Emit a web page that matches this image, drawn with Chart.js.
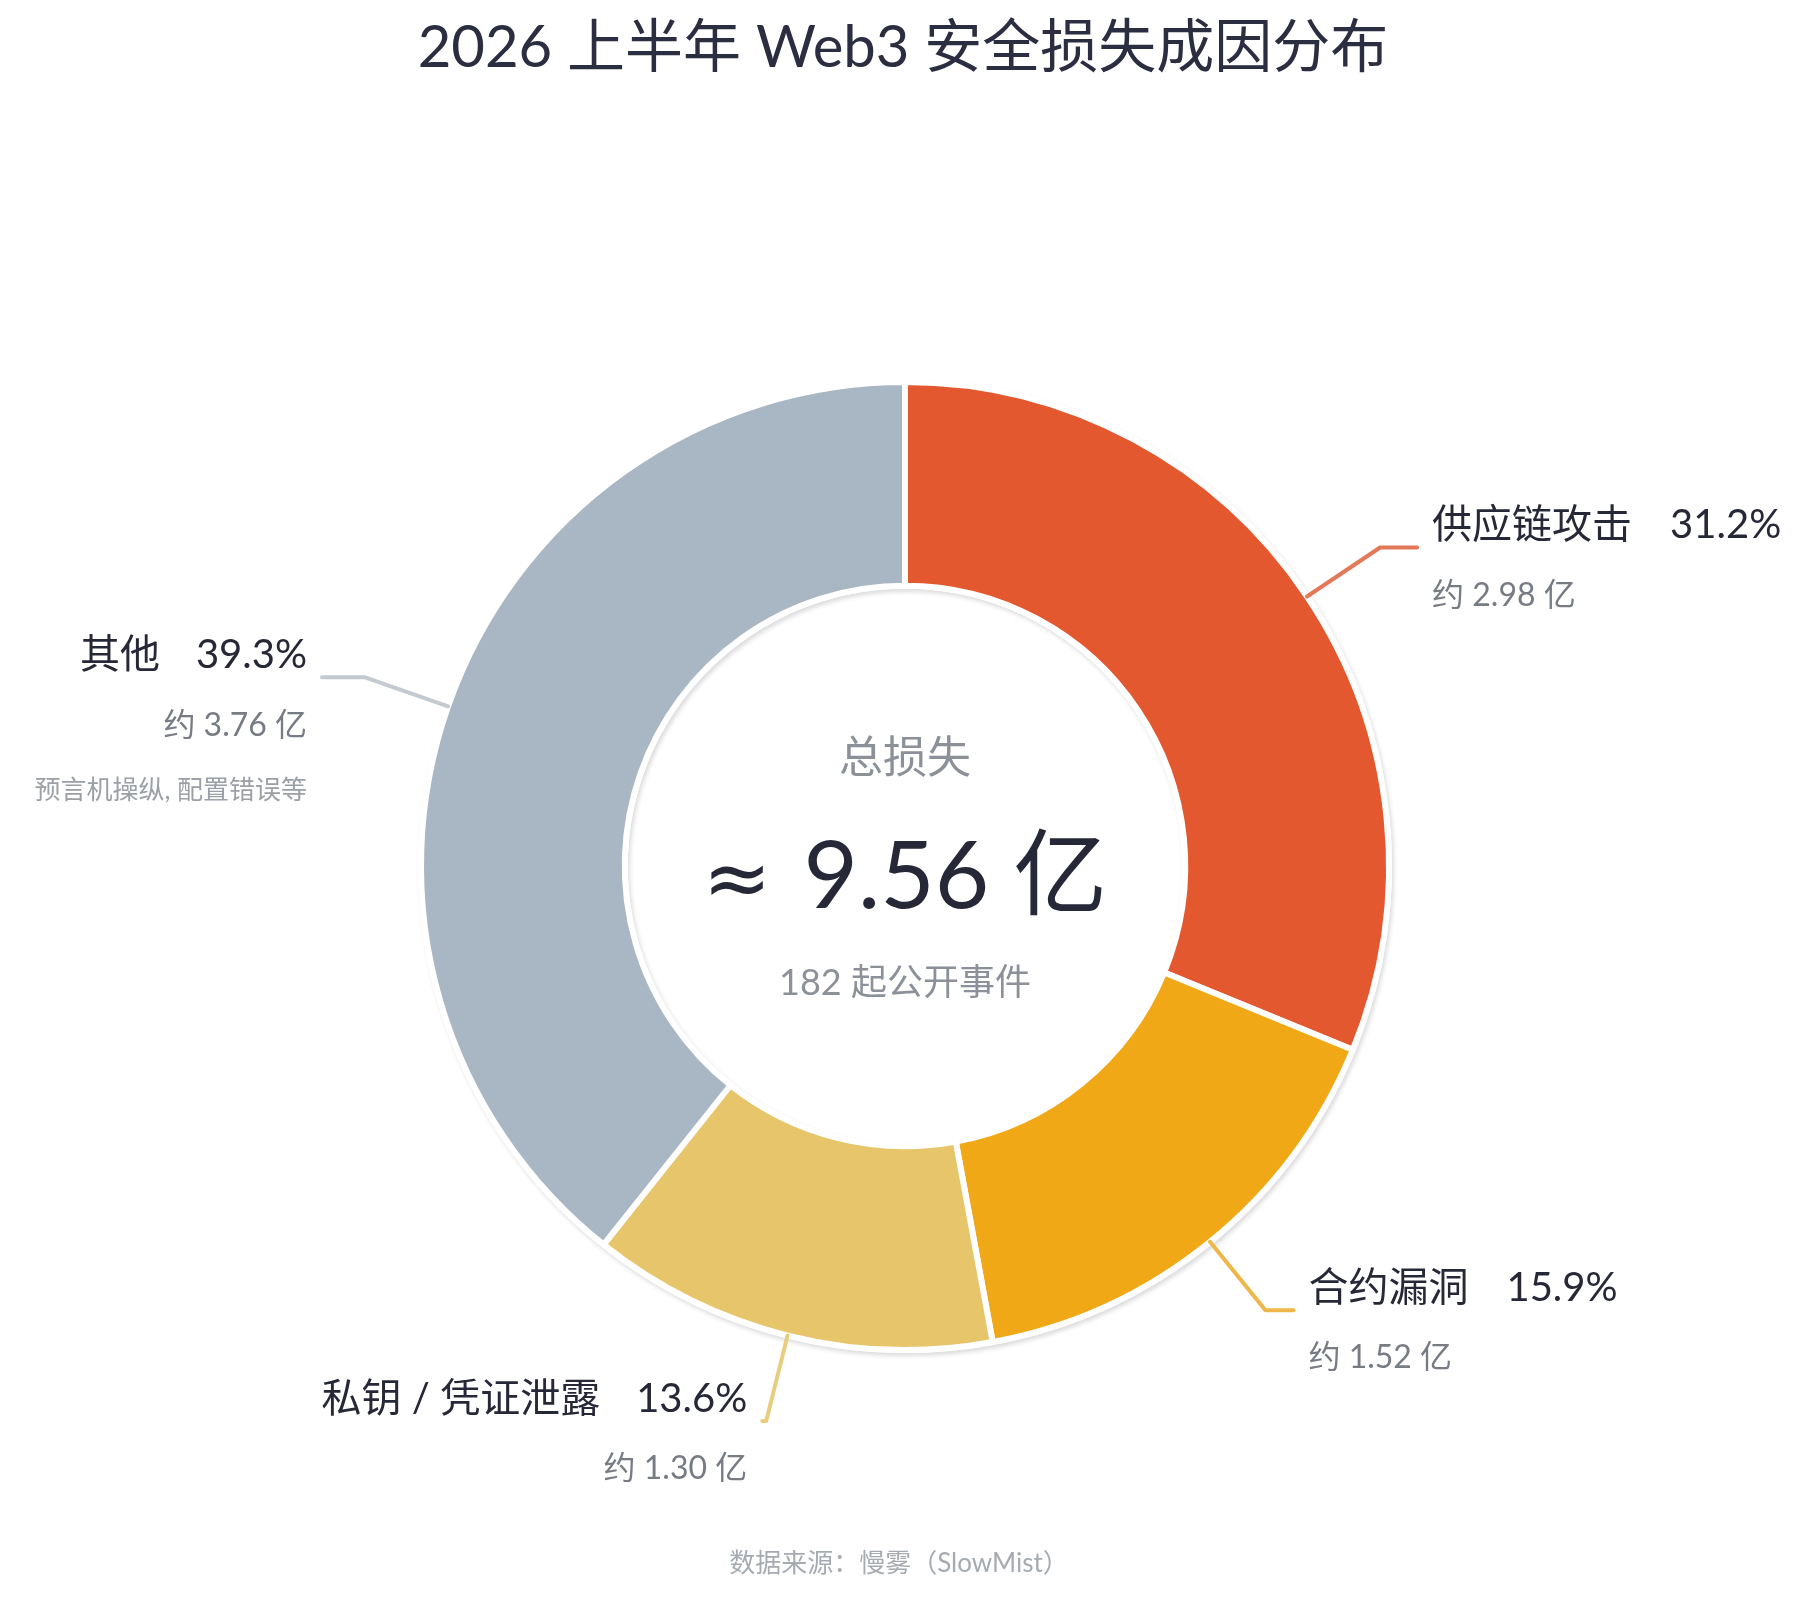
<!DOCTYPE html>
<html lang="zh-CN">
<head>
<meta charset="utf-8">
<title>2026 上半年 Web3 安全损失成因分布</title>
<script src="https://cdn.jsdelivr.net/npm/chart.js@4.4.1/dist/chart.umd.min.js"></script>
<style>
  html, body { margin: 0; padding: 0; background: #fff; }
  #wrap { width: 1803px; height: 1600px; }
</style>
</head>
<body>
<div id="wrap"><canvas id="lossChart" width="1803" height="1600"></canvas></div>
<script>
var chartTitle = '2026 上半年 Web3 安全损失成因分布';
var categories = ['供应链攻击', '合约漏洞', '私钥 / 凭证泄露', '其他'];
var shares = [31.2, 15.9, 13.6, 39.3];      // %
var amounts = [2.98, 1.52, 1.30, 3.76];     // 亿
var notes = ['', '', '', '预言机操纵, 配置错误等'];
var totalLoss = 9.56;                       // 亿
var eventCount = 182;
var sourceText = '数据来源：慢雾（SlowMist）';

var sliceColors = ['#E3582F', '#F1A817', '#E7C56B', '#A9B7C4'];
var leaderColors = ['#E4795A', '#EFB64A', '#E9CD7D', '#C4CAD0'];
var leaderTail = [37, 28, 4, 43];   // horizontal end of each leader line

var FONT = 'Lato, "Noto Sans CJK SC", sans-serif';
var DARK = '#262838';

function font(size, weight) {
  return (weight || 'normal') + ' ' + size + 'px ' + FONT;
}

// white ring under the slices, its shadow gives the faint grey edge
var ringShadow = {
  id: 'ringShadow',
  beforeDatasetsDraw: function(chart) {
    var arc = chart.getDatasetMeta(0).data[0];
    if (!arc) return;
    var c = chart.ctx;
    c.save();
    c.shadowColor = 'rgba(60,60,70,0.18)';
    c.shadowBlur = 4;
    c.shadowOffsetX = 2;
    c.shadowOffsetY = 3;
    c.fillStyle = '#fff';
    c.beginPath();
    c.arc(arc.x, arc.y, arc.outerRadius + 3, 0, Math.PI * 2);
    c.arc(arc.x, arc.y, arc.innerRadius - 3, 0, Math.PI * 2, true);
    c.fill();
    c.restore();
  }
};

var sliceLabels = {
  id: 'sliceLabels',
  afterDatasetsDraw: function(chart) {
    var c = chart.ctx;
    chart.getDatasetMeta(0).data.forEach(function(arc, i) {
      var mid = (arc.startAngle + arc.endAngle) / 2;
      var cos = Math.cos(mid), sin = Math.sin(mid);
      var side = cos >= 0 ? 1 : -1;
      var x0 = arc.x + cos * arc.outerRadius;
      var y0 = arc.y + sin * arc.outerRadius;
      var x1 = arc.x + cos * (arc.outerRadius + 88);
      var y1 = arc.y + sin * (arc.outerRadius + 88);
      var x2 = x1 + side * leaderTail[i];

      c.save();
      c.strokeStyle = leaderColors[i];
      c.lineWidth = 4;
      c.lineCap = 'round';
      c.lineJoin = 'round';
      c.beginPath();
      c.moveTo(x0, y0);
      c.lineTo(x1, y1);
      c.lineTo(x2, y1);
      c.stroke();

      var tx = x2 + side * 15;
      var name = categories[i];
      var pct = shares[i].toFixed(1) + '%';
      c.textBaseline = 'middle';
      c.fillStyle = DARK;
      c.font = font(40);
      var nameW = c.measureText(name).width;
      var pctW = c.measureText(pct).width;
      if (side > 0) {
        c.textAlign = 'left';
        c.fillText(name, tx, y1 - 22);
        c.fillText(pct, tx + nameW + 38, y1 - 22);
      } else {
        c.textAlign = 'right';
        c.fillText(pct, tx, y1 - 22);
        c.fillText(name, tx - pctW - 36, y1 - 22);
      }
      c.fillStyle = '#767B84';
      c.font = font(32);
      c.fillText('约 ' + amounts[i].toFixed(2) + ' 亿', tx, y1 + 48);
      if (notes[i]) {
        c.fillStyle = '#9BA0A7';
        c.font = font(26);
        c.fillText(notes[i], tx, y1 + 113);
      }
      c.restore();
    });
  }
};

var headerAndCenter = {
  id: 'headerAndCenter',
  afterDraw: function(chart) {
    var c = chart.ctx;
    var arc = chart.getDatasetMeta(0).data[0];
    var cx = arc.x, cy = arc.y;
    c.save();
    c.textAlign = 'center';
    c.textBaseline = 'middle';
    c.fillStyle = '#2B2D40';
    c.font = font(58);
    c.fillText(chartTitle, 903, 48);

    c.fillStyle = '#8B9099';
    c.font = font(44);
    c.fillText('总损失', cx, cy - 107);

    // "≈ 9.56 亿" : the sign is drawn larger, in its own font
    var approxFont = 'normal 82px "DejaVu Sans", sans-serif';
    var value = totalLoss.toFixed(2) + ' 亿';
    c.font = approxFont;
    var aw = c.measureText('≈').width;
    c.font = font(94);
    var vw = c.measureText(value).width;
    var gap = 32;
    var left = cx - (aw + gap + vw) / 2;
    c.textAlign = 'left';
    c.textBaseline = 'alphabetic';
    c.fillStyle = DARK;
    c.font = approxFont;
    c.fillText('≈', left, cy + 40);
    c.font = font(94);
    c.fillText(value, left + aw + gap, cy + 42);

    c.textAlign = 'center';
    c.textBaseline = 'middle';
    c.fillStyle = '#8B9099';
    c.font = font(36);
    c.fillText(eventCount + ' 起公开事件', cx, cy + 117);

    c.fillStyle = '#A6ABB2';
    c.font = font(26);
    c.fillText(sourceText, 899, 1564);
    c.restore();
  }
};

var ctx = document.getElementById('lossChart').getContext('2d');

var lossChart = new Chart(ctx, {
  type: 'doughnut',
  data: {
    labels: categories,
    datasets: [{
      data: shares,
      backgroundColor: sliceColors,
      borderColor: '#ffffff',
      borderWidth: 6,
      hoverOffset: 0
    }]
  },
  options: {
    responsive: false,
    devicePixelRatio: 1,
    animation: false,
    cutout: '57.9%',
    layout: { padding: { left: 418, right: 411, top: 379, bottom: 247 } },
    plugins: {
      legend: { display: false },
      tooltip: { enabled: false }
    }
  },
  plugins: [ringShadow, sliceLabels, headerAndCenter]
});
</script>
</body>
</html>
